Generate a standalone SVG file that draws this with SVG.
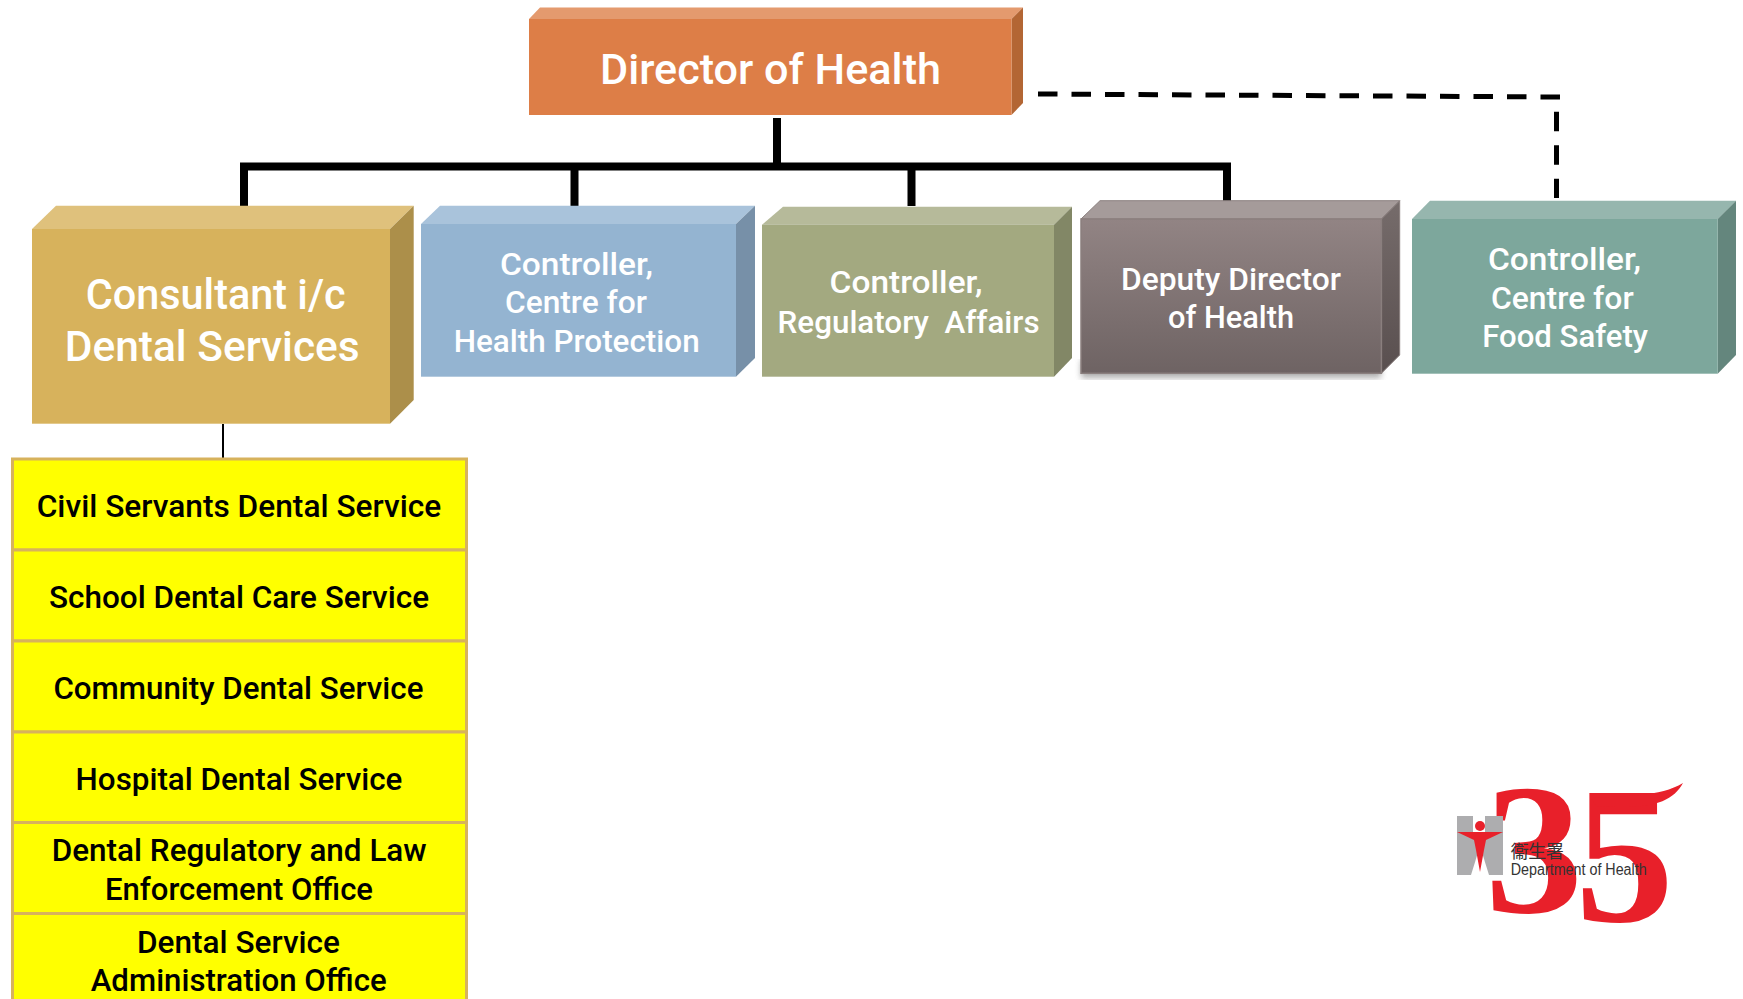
<svg xmlns="http://www.w3.org/2000/svg" width="1743" height="999" viewBox="0 0 1743 999">
<style>
text{font-family:"Roboto","Liberation Sans",sans-serif}
.w{fill:#fff;font-size:31px;font-weight:500}
.big{fill:#fff;font-size:43px;font-weight:500}
.k{fill:#000;font-size:31px;font-weight:500}
.cell{fill:#ff0;stroke:#d7b25c;stroke-width:3}
.solid{fill:none;stroke:#000;stroke-width:8}
.dash{fill:none;stroke:#000;stroke-width:5;stroke-dasharray:19.5 14}
.digit{font-family:"Liberation Serif",serif;fill:#e8202a;font-weight:700}
</style>
<defs>
<linearGradient id="gf" x1="0" y1="0" x2="0" y2="1"><stop offset="0" stop-color="#928484"/><stop offset="1" stop-color="#6e6363"/></linearGradient>
<linearGradient id="gs" x1="0" y1="0" x2="0" y2="1"><stop offset="0" stop-color="#766c6b"/><stop offset="1" stop-color="#594f4f"/></linearGradient>
<filter id="sh" x="-5%" y="-5%" width="110%" height="115%"><feGaussianBlur stdDeviation="3"/></filter>
</defs>
<rect width="1743" height="999" fill="#fff"/>
<g id="connectors">
<path class="solid" d="M777 118V166M244 206V166.500H1227V201M574.500 166.500V206M911.500 166.500V206"/>
<path fill="none" stroke="#000" stroke-width="2" d="M223 424V458"/>
<path class="dash" d="M1038 94L1560 97"/>
<path class="dash" d="M1556.500 111.700V198"/>
</g>
<g id="director">
<polygon fill="#e49a6e" points="529,19 540,7.500 1023,7.500 1011.500,19"/>
<polygon fill="#b36634" points="1011.500,19 1023,7.500 1023,103 1011.500,115"/>
<rect x="529" y="19" width="482.500" height="96" fill="#dd7e47"/>
<text class="big" x="600" y="84" textLength="341" lengthAdjust="spacingAndGlyphs">Director of Health</text>
</g>
<g id="consultant">
<polygon fill="#dfc17c" points="32,229 56,205.700 413.700,205.700 390,229"/>
<polygon fill="#ac8f4a" points="390,229 413.700,205.700 413.700,400 390,423.700"/>
<rect x="32" y="229" width="358" height="194.700" fill="#d7b25c"/>
<text class="big" x="85.700" y="309" textLength="260" lengthAdjust="spacingAndGlyphs">Consultant i/c</text>
<text class="big" x="64.700" y="360.500" textLength="295" lengthAdjust="spacingAndGlyphs">Dental Services</text>
</g>
<g id="health-protection">
<polygon fill="#a9c3db" points="421,224 440,205.700 755,205.700 736,224"/>
<polygon fill="#7790a8" points="736,224 755,205.700 755,358 736,376.700"/>
<rect x="421" y="224" width="315" height="152.700" fill="#94b4d1"/>
<text class="w" x="500" y="275" textLength="153" lengthAdjust="spacingAndGlyphs">Controller,</text>
<text class="w" x="505" y="312.500" textLength="142" lengthAdjust="spacingAndGlyphs">Centre for</text>
<text class="w" x="453.700" y="351.500" textLength="246" lengthAdjust="spacingAndGlyphs">Health Protection</text>
</g>
<g id="regulatory-affairs">
<polygon fill="#b6ba9a" points="762,224.700 783,206.700 1072,206.700 1054,224.700"/>
<polygon fill="#828766" points="1054,224.700 1072,206.700 1072,358 1054,376.700"/>
<rect x="762" y="224.700" width="292" height="152" fill="#a3a980"/>
<text class="w" x="829.600" y="293" textLength="153" lengthAdjust="spacingAndGlyphs">Controller,</text>
<text class="w" x="777.600" y="332.500" textLength="262" lengthAdjust="spacingAndGlyphs" xml:space="preserve">Regulatory  Affairs</text>
</g>
<g id="deputy-director">
<rect x="1081" y="360" width="300" height="18" fill="#777" opacity=".6" filter="url(#sh)"/>
<polygon fill="#a59b9a" stroke="#8a7f7e" points="1081,219 1100,200.700 1399.700,200.700 1381.400,219"/>
<polygon fill="url(#gs)" stroke="#8a7f7e" points="1381.400,219 1399.700,200.700 1399.700,355 1381.400,373.300"/>
<rect x="1081" y="219" width="300.400" height="154.300" fill="url(#gf)" stroke="#8a7f7e" stroke-width="1.500"/>
<text class="w" x="1121" y="289.500" textLength="220" lengthAdjust="spacingAndGlyphs">Deputy Director</text>
<text class="w" x="1168" y="327.500" textLength="126" lengthAdjust="spacingAndGlyphs">of Health</text>
</g>
<g id="food-safety">
<polygon fill="#96b6ae" points="1412,219 1430,200.700 1736,200.700 1717.700,219"/>
<polygon fill="#64867d" points="1717.700,219 1736,200.700 1736,355 1717.700,373.700"/>
<rect x="1412" y="219" width="305.700" height="154.700" fill="#7da79c"/>
<text class="w" x="1488" y="270" textLength="153" lengthAdjust="spacingAndGlyphs">Controller,</text>
<text class="w" x="1491" y="308.700" textLength="142.700" lengthAdjust="spacingAndGlyphs">Centre for</text>
<text class="w" x="1482.300" y="346.700" textLength="165.700" lengthAdjust="spacingAndGlyphs">Food Safety</text>
</g>
<g id="civil-servants"><rect class="cell" x="12.500" y="459" width="454" height="91"/><text class="k" x="36.700" y="516.700" textLength="404.600" lengthAdjust="spacingAndGlyphs">Civil Servants Dental Service</text></g>
<g id="school-dental"><rect class="cell" x="12.500" y="550" width="454" height="91"/><text class="k" x="49" y="608" textLength="380" lengthAdjust="spacingAndGlyphs">School Dental Care Service</text></g>
<g id="community-dental"><rect class="cell" x="12.500" y="641" width="454" height="91"/><text class="k" x="53.400" y="699" textLength="370" lengthAdjust="spacingAndGlyphs">Community Dental Service</text></g>
<g id="hospital-dental"><rect class="cell" x="12.500" y="732" width="454" height="90.500"/><text class="k" x="75.600" y="789.500" textLength="326.800" lengthAdjust="spacingAndGlyphs">Hospital Dental Service</text></g>
<g id="dental-regulatory"><rect class="cell" x="12.500" y="822.500" width="454" height="91"/><text class="k" x="51.700" y="861" textLength="375" lengthAdjust="spacingAndGlyphs">Dental Regulatory and Law</text><text class="k" x="105" y="900" textLength="268" lengthAdjust="spacingAndGlyphs">Enforcement Office</text></g>
<g id="dental-administration"><rect class="cell" x="12.500" y="913.500" width="454" height="100"/><text class="k" x="137" y="952.700" textLength="203" lengthAdjust="spacingAndGlyphs">Dental Service</text><text class="k" x="90.700" y="991" textLength="296" lengthAdjust="spacingAndGlyphs">Administration Office</text></g>
<g id="logo">
<text class="digit" x="1485" y="912" font-size="186" textLength="98" lengthAdjust="spacingAndGlyphs">3</text>
<text class="digit" x="1575" y="921" font-size="196" textLength="99" lengthAdjust="spacingAndGlyphs">5</text>
<path d="M1591 798C1625 796 1660 797 1683 783C1672 803 1650 810 1596 806Z" fill="#e8202a"/>
<rect x="1457" y="816" width="46" height="59" fill="#adadaf"/>
<rect x="1473" y="816" width="12" height="17" fill="#fff"/>
<path d="M1471 875L1480 846L1489 875Z" fill="#fff"/>
<circle cx="1480" cy="826" r="5" fill="#e8202a"/>
<path d="M1457 832H1503L1486 840L1484 850L1480 872L1476 850L1474 840Z" fill="#e8202a"/>
<text x="1510.700" y="858" font-size="18" textLength="53" fill="#333" style="font-family:'Noto Sans CJK TC',sans-serif">衞生署</text>
<text x="1510.700" y="875" font-size="16" textLength="136" lengthAdjust="spacingAndGlyphs" fill="#333" style="font-family:'Liberation Sans',sans-serif">Department of Health</text>
</g>
</svg>
